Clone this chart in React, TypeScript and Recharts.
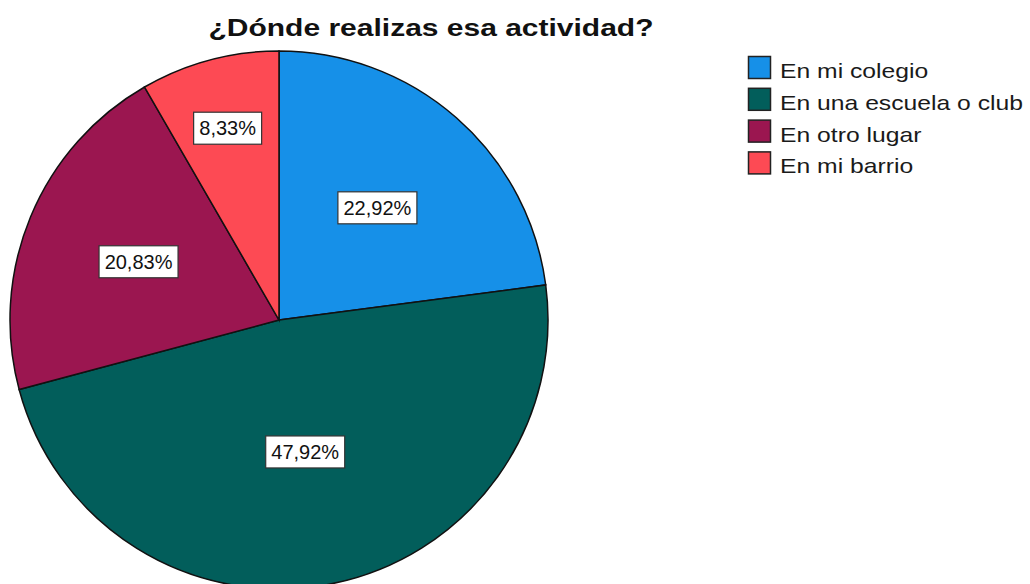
import React from 'react';
import { PieChart, Pie, Cell, Legend } from 'recharts';

const title = '¿Dónde realizas esa actividad?';
const categories = ['En mi colegio', 'En una escuela o club', 'En otro lugar', 'En mi barrio'];
const percentages = [22.92, 47.92, 20.83, 8.33];
const valueLabels = ['22,92%', '47,92%', '20,83%', '8,33%'];
const colors = ['#1690E8', '#025E5B', '#9B1650', '#FD4A54'];

const data = categories.map((name, i) => ({ name, value: percentages[i] }));

const FONT = '"Liberation Sans", Arial, Helvetica, sans-serif';
const RAD = Math.PI / 180;

const renderLabel = (props: any) => {
  const { cx, cy, midAngle, outerRadius, percent, index } = props;
  const f = 0.45 + 0.024 / percent;
  const r = outerRadius * f;
  const x = cx + r * Math.cos(-midAngle * RAD);
  const y = cy + r * Math.sin(-midAngle * RAD);
  const text = valueLabels[index];
  const w = text.length * 11 + 13;
  const h = 32;
  return (
    <g>
      <rect x={x - w / 2} y={y - h / 2} width={w} height={h} fill="#ffffff" stroke="#333333" strokeWidth={1.2} />
      <text x={x} y={y + 7} textAnchor="middle" fontFamily={FONT} fontSize={20} fill="#111111">
        {text}
      </text>
    </g>
  );
};

const renderLegend = () => (
  <svg width={285} height={135} style={{ display: 'block' }}>
    {categories.map((c, i) => (
      <g key={c}>
        <rect x={4.5} y={2.5 + i * 31.8} width={22} height={22} fill={colors[i]} stroke="#222222" strokeWidth={1.5} />
        <g transform={`translate(36, ${24 + i * 31.8}) scale(1.235, 1)`}>
          <text x={0} y={0} fontFamily={FONT} fontSize={20} fill="#1a1a1a">
            {c}
          </text>
        </g>
      </g>
    ))}
  </svg>
);

export default function App() {
  return (
    <div style={{ position: 'absolute', left: 0, top: 0, width: 1030, height: 584, background: '#ffffff', overflow: 'hidden' }}>
      <PieChart width={1030} height={584} margin={{ top: 0, right: 0, bottom: 0, left: 0 }}>
        <Pie
          data={data}
          dataKey="value"
          nameKey="name"
          cx={279}
          cy={320}
          outerRadius={269}
          startAngle={90}
          endAngle={-270}
          stroke="#111111"
          strokeWidth={1.5}
          label={renderLabel}
          labelLine={false}
          isAnimationActive={false}
        >
          {data.map((d, i) => (
            <Cell key={d.name} fill={colors[i]} />
          ))}
        </Pie>
        <Legend
          content={renderLegend}
          wrapperStyle={{ position: 'absolute', left: 744, top: 54, width: 285, height: 135 }}
        />
      </PieChart>
      <svg width={1030} height={60} style={{ position: 'absolute', left: 0, top: 0, pointerEvents: 'none' }}>
        <g transform="translate(431, 36) scale(1.25, 1)">
          <text x={0} y={0} textAnchor="middle" fontFamily={FONT} fontSize={24} fontWeight="bold" fill="#111111">
            {title}
          </text>
        </g>
      </svg>
    </div>
  );
}
